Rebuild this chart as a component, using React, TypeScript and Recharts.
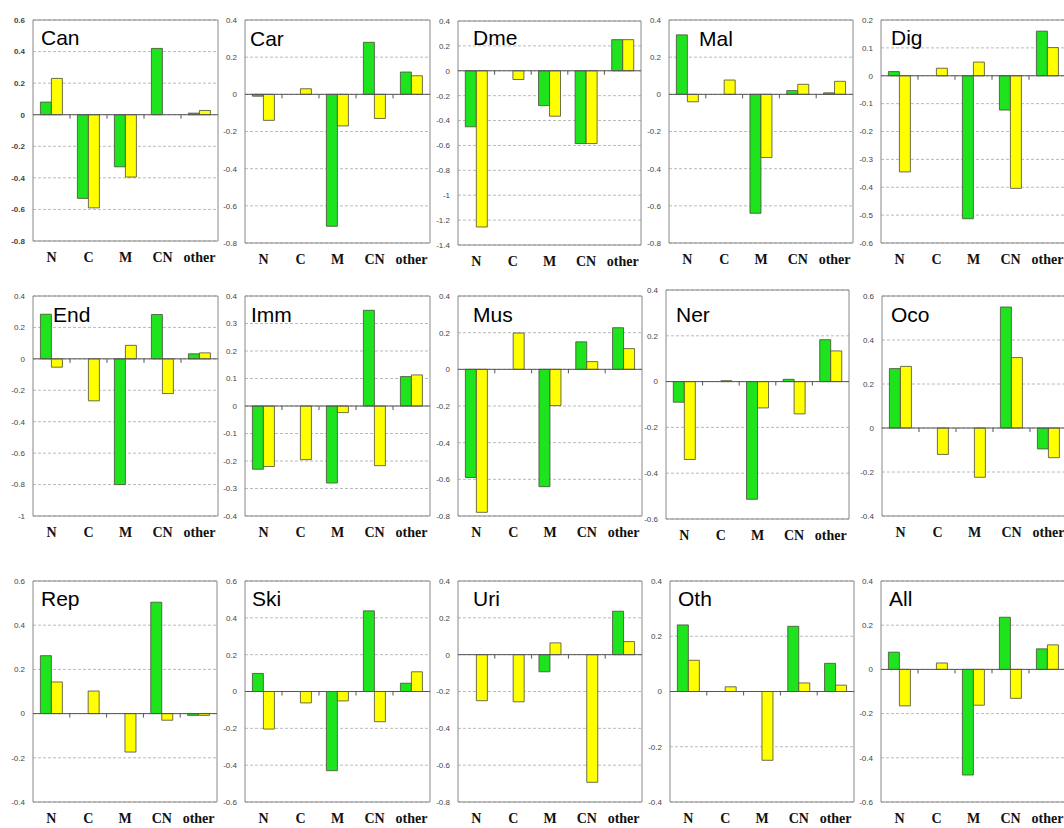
import React from 'react';
import { BarChart, Bar, XAxis, YAxis, CartesianGrid, ReferenceLine, ReferenceArea } from 'recharts';

const categories = ['N', 'C', 'M', 'CN', 'other'];

const canGreen = [0.08, -0.53, -0.33, 0.42, 0.01];
const canYellow = [0.23, -0.59, -0.395, null, 0.027];
const carGreen = [-0.01, null, -0.71, 0.28, 0.12];
const carYellow = [-0.14, 0.03, -0.17, -0.13, 0.1];
const dmeGreen = [-0.45, null, -0.28, -0.585, 0.25];
const dmeYellow = [-1.255, -0.07, -0.365, -0.585, 0.25];
const malGreen = [0.32, null, -0.64, 0.02, 0.008];
const malYellow = [-0.04, 0.077, -0.34, 0.054, 0.07];
const digGreen = [0.015, null, -0.513, -0.123, 0.16];
const digYellow = [-0.345, 0.027, 0.049, -0.404, 0.101];
const endGreen = [0.284, null, -0.8, 0.282, 0.032];
const endYellow = [-0.053, -0.267, 0.086, -0.221, 0.038];
const immGreen = [-0.23, null, -0.28, 0.348, 0.107];
const immYellow = [-0.22, -0.195, -0.024, -0.217, 0.113];
const musGreen = [-0.59, null, -0.64, 0.15, 0.227];
const musYellow = [-0.78, 0.198, -0.198, 0.042, 0.113];
const nerGreen = [-0.09, null, -0.514, 0.01, 0.183];
const nerYellow = [-0.34, 0.004, -0.115, -0.141, 0.134];
const ocoGreen = [0.27, null, null, 0.55, -0.095];
const ocoYellow = [0.28, -0.12, -0.224, 0.32, -0.135];
const repGreen = [0.262, null, null, 0.504, -0.008];
const repYellow = [0.143, 0.102, -0.174, -0.03, -0.008];
const skiGreen = [0.098, null, -0.43, 0.438, 0.045];
const skiYellow = [-0.204, -0.062, -0.051, -0.164, 0.107];
const uriGreen = [null, null, -0.093, null, 0.236];
const uriYellow = [-0.25, -0.256, 0.064, -0.693, 0.071];
const othGreen = [0.241, null, null, 0.236, 0.102];
const othYellow = [0.113, 0.017, -0.249, 0.031, 0.023];
const allGreen = [0.078, null, -0.478, 0.236, 0.093];
const allYellow = [-0.165, 0.029, -0.162, -0.131, 0.111];

const ticksA = [-0.8, -0.6, -0.4, -0.2, 0, 0.2, 0.4, 0.6];
const ticksB = [-0.8, -0.6, -0.4, -0.2, 0, 0.2, 0.4];
const ticksDme = [-1.4, -1.2, -1, -0.8, -0.6, -0.4, -0.2, 0, 0.2, 0.4];
const ticksDig = [-0.6, -0.5, -0.4, -0.3, -0.2, -0.1, 0, 0.1, 0.2];
const ticksEnd = [-1, -0.8, -0.6, -0.4, -0.2, 0, 0.2, 0.4];
const ticksImm = [-0.4, -0.3, -0.2, -0.1, 0, 0.1, 0.2, 0.3, 0.4];
const ticksNer = [-0.6, -0.4, -0.2, 0, 0.2, 0.4];
const ticksOco = [-0.4, -0.2, 0, 0.2, 0.4, 0.6];
const ticksSki = [-0.6, -0.4, -0.2, 0, 0.2, 0.4, 0.6];
const ticksOth = [-0.4, -0.2, 0, 0.2, 0.4];
const ticksAll = [-0.6, -0.4, -0.2, 0, 0.2, 0.4];

const titles = ['Can', 'Car', 'Dme', 'Mal', 'Dig', 'End', 'Imm', 'Mus', 'Ner', 'Oco', 'Rep', 'Ski', 'Uri', 'Oth', 'All'];
const greens = [canGreen, carGreen, dmeGreen, malGreen, digGreen, endGreen, immGreen, musGreen, nerGreen, ocoGreen, repGreen, skiGreen, uriGreen, othGreen, allGreen];
const yellows = [canYellow, carYellow, dmeYellow, malYellow, digYellow, endYellow, immYellow, musYellow, nerYellow, ocoYellow, repYellow, skiYellow, uriYellow, othYellow, allYellow];
const tickSets = [ticksA, ticksB, ticksDme, ticksB, ticksDig, ticksEnd, ticksImm, ticksB, ticksNer, ticksOco, ticksOco, ticksSki, ticksB, ticksOth, ticksAll];

// layout: plot box x, y, w, h ; title x, title baseline
const layout = [
  [33, 20, 185, 221, 41, 45],
  [245, 20, 185, 223, 250, 46],
  [458, 21, 183, 224, 473, 45],
  [669, 20, 184, 223, 699, 46],
  [881, 20, 185, 223, 891, 45],
  [33, 296, 185, 220, 53, 322],
  [245, 296, 185, 220, 251, 322],
  [458, 296, 184, 220, 473, 322],
  [666, 290, 183, 229, 676, 322],
  [882, 296, 185, 220, 891, 322],
  [33, 581, 184, 221, 41, 606],
  [245, 581, 185, 221, 252, 606],
  [458, 581, 184, 221, 473, 606],
  [670, 581, 184, 221, 678, 606],
  [881, 581, 185, 221, 889, 606],
];

const GREEN = '#1ee41e';
const YELLOW = '#ffff00';
const EDGE = '#4a4a3a';

const ZeroLine = (props: any) => {
  const { x1, y1, x2, y2 } = props;
  const step = (x2 - x1) / categories.length;
  const marks = [1, 2, 3, 4].map((i) => x1 + i * step);
  return (
    <g>
      <line x1={x1} y1={y1} x2={x2} y2={y2} stroke="#555" strokeWidth={1} />
      {marks.map((t, i) => (
        <line key={i} x1={t} x2={t} y1={y1} y2={y1 + 4} stroke="#555" strokeWidth={1} />
      ))}
    </g>
  );
};

const YW = 30;
const XH = 32;
const MT = 5;
const MR = 5;

function Panel({ idx }: { idx: number }) {
  const [px, py, pw, ph] = layout[idx];
  const ticks = tickSets[idx];
  const min = ticks[0];
  const max = ticks[ticks.length - 1];
  const width = pw + YW + MR;
  const height = ph + MT + XH;
  const data = categories.map((c, i) => ({ cat: c, g: greens[idx][i], y: yellows[idx][i] }));
  const bold = idx === 0;
  return (
    <div style={{ position: 'absolute', left: px - YW, top: py - MT, width, height }}>
      <BarChart width={width} height={height} data={data} margin={{ top: MT, right: MR, left: 0, bottom: 0 }} barCategoryGap="20%" barGap={0}>
        <CartesianGrid vertical={false} stroke="#a8a8a8" strokeDasharray="3 2" strokeWidth={0.8} />
        <XAxis
          dataKey="cat"
          height={XH}
          axisLine={false}
          tickLine={false}
          tickMargin={5}
          interval={0}
          tick={{ fontFamily: 'Liberation Serif', fontWeight: 'bold', fontSize: 14, fill: '#111' }}
        />
        <YAxis
          width={YW}
          type="number"
          domain={[min, max]}
          ticks={ticks}
          interval={0}
          axisLine={false}
          tickLine={false}
          tickFormatter={(v: number) => String(v)}
          tick={{ fontFamily: 'Liberation Sans', fontSize: 8, fill: '#444', fontWeight: bold ? 'bold' : 'normal' }}
        />
        <Bar dataKey="g" fill={GREEN} stroke={EDGE} strokeWidth={0.8} isAnimationActive={false} />
        <Bar dataKey="y" fill={YELLOW} stroke={EDGE} strokeWidth={0.8} isAnimationActive={false} />
        <ReferenceLine y={0} shape={ZeroLine} />
        <ReferenceArea y1={min} y2={max} fill="none" stroke="#888" strokeWidth={1} fillOpacity={0} />
      </BarChart>
    </div>
  );
}

export default function App() {
  return (
    <div style={{ position: 'fixed', left: 0, top: 0, width: 1064, height: 828, overflow: 'hidden', background: '#fff' }}>
      {titles.map((t, i) => (
        <Panel key={t} idx={i} />
      ))}
      {titles.map((t, i) => (
        <div
          key={'t' + t}
          style={{
            position: 'absolute',
            left: layout[i][4],
            top: layout[i][5] - 18,
            fontFamily: 'Liberation Sans',
            fontSize: 21,
            lineHeight: '21px',
            color: '#000',
            whiteSpace: 'nowrap',
          }}
        >
          {t}
        </div>
      ))}
    </div>
  );
}
